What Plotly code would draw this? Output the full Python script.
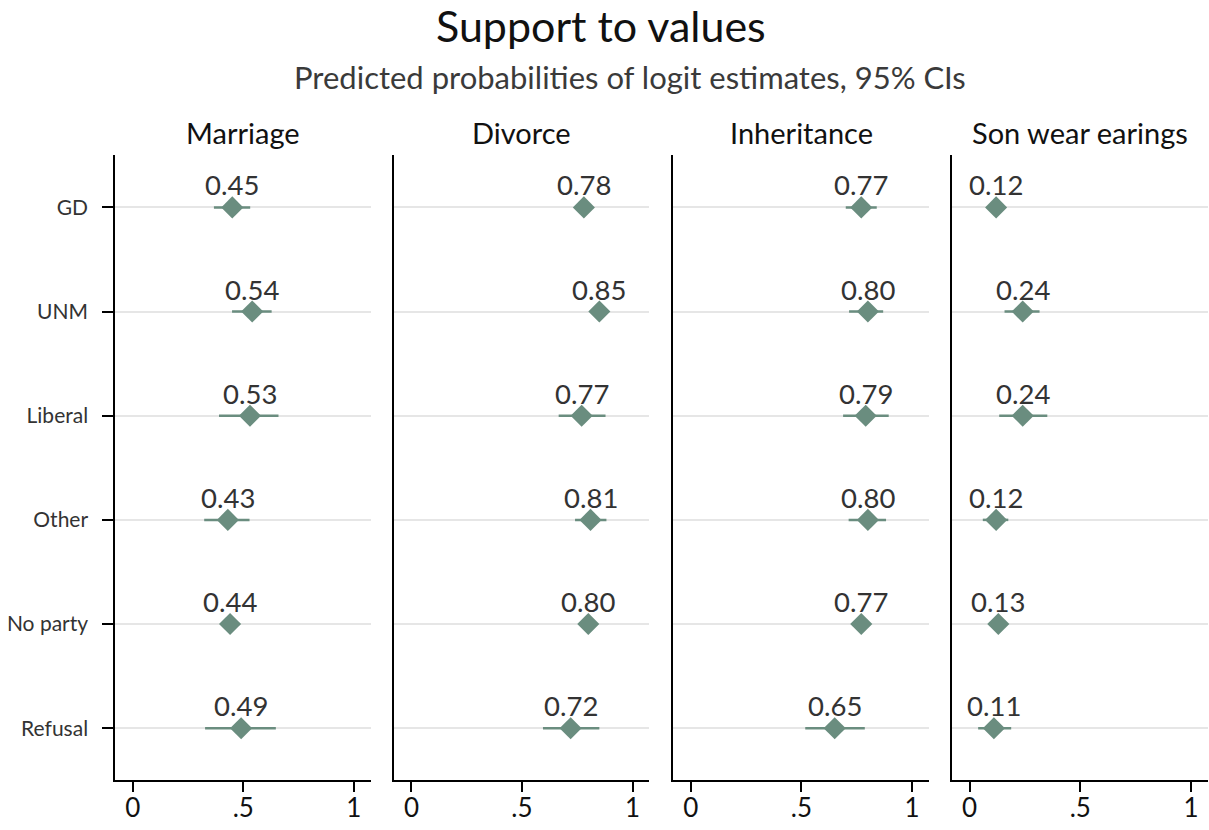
import plotly.graph_objects as go

# Party categories (top to bottom) and outcome panels
categories = ["GD", "UNM", "Liberal", "Other", "No party", "Refusal"]
panel_titles = ["Marriage", "Divorce", "Inheritance", "Son wear earings"]

# Predicted probabilities with 95% confidence bounds
marriage = [0.45, 0.54, 0.53, 0.43, 0.44, 0.49]
marriage_lo = [0.367, 0.449, 0.390, 0.323, 0.410, 0.327]
marriage_hi = [0.531, 0.628, 0.659, 0.528, 0.470, 0.647]

divorce = [0.78, 0.85, 0.77, 0.81, 0.80, 0.72]
divorce_lo = [0.755, 0.825, 0.666, 0.740, 0.775, 0.595]
divorce_hi = [0.805, 0.875, 0.878, 0.882, 0.825, 0.850]

inheritance = [0.77, 0.80, 0.79, 0.80, 0.77, 0.65]
inheritance_lo = [0.700, 0.715, 0.688, 0.713, 0.745, 0.517]
inheritance_hi = [0.840, 0.869, 0.894, 0.882, 0.795, 0.786]

earings = [0.12, 0.24, 0.24, 0.12, 0.13, 0.11]
earings_lo = [0.095, 0.158, 0.134, 0.060, 0.105, 0.039]
earings_hi = [0.145, 0.316, 0.351, 0.175, 0.155, 0.188]

x_ticks = [0, 0.5, 1]
x_ticktext = ["0", ".5", "1"]

series = [
    (marriage, marriage_lo, marriage_hi),
    (divorce, divorce_lo, divorce_hi),
    (inheritance, inheritance_lo, inheritance_hi),
    (earings, earings_lo, earings_hi),
]

W, H = 1209, 830
FONT = "Lato"
MARK = "#6a8d7f"
TEXT = "#333333"

# Panel placement in pixels (left, right) and shared vertical extent
panel_px = [(115.3, 370.7), (394.0, 649.3), (673.3, 929.0), (952.0, 1208.0)]
top_px, bottom_px = 155.3, 780.3
y_dom = [1 - bottom_px / H, 1 - top_px / H]
x_range = [-0.079, 1.076]

fig = go.Figure()
annotations = []

for i, ((vals, lo, hi), (l_px, r_px)) in enumerate(zip(series, panel_px)):
    n = "" if i == 0 else str(i + 1)
    xa, ya = "x" + n, "y" + n
    fig.add_trace(go.Scatter(
        x=vals, y=categories, xaxis=xa, yaxis=ya,
        mode="markers",
        marker=dict(symbol="diamond", size=17, color=MARK, line=dict(width=0)),
        error_x=dict(type="data", symmetric=False,
                     array=[h - v for h, v in zip(hi, vals)],
                     arrayminus=[v - l for v, l in zip(vals, lo)],
                     color=MARK, thickness=2.5, width=0),
        hoverinfo="x+y", showlegend=False,
    ))
    for v, c in zip(vals, categories):
        annotations.append(dict(
            x=v, y=c, xref=xa, yref=ya, text=f"{v:.2f}", showarrow=False,
            xanchor="center", yanchor="bottom", yshift=4,
            font=dict(family=FONT, size=27.5, color=TEXT),
        ))
    dom = [l_px / W, r_px / W]
    fig.layout["xaxis" + n] = dict(
        domain=dom, range=x_range, anchor=ya,
        tickvals=x_ticks, ticktext=x_ticktext,
        ticks="outside", ticklen=10, tickwidth=2, tickcolor="black",
        showline=True, linecolor="black", linewidth=2,
        showgrid=False, zeroline=False, ticklabelstandoff=-7,
        tickfont=dict(family=FONT, size=26, color="#111111"),
    )
    fig.layout["yaxis" + n] = dict(
        domain=y_dom, anchor=xa, type="category",
        categoryorder="array", categoryarray=categories,
        range=[5.5, -0.5],
        showgrid=True, gridcolor="#e6e6e6", gridwidth=2,
        showline=True, linecolor="black", linewidth=2, zeroline=False,
        ticks="outside" if i == 0 else "", ticklen=11, tickwidth=2, tickcolor="black",
        showticklabels=(i == 0), ticklabelstandoff=10,
        tickfont=dict(family=FONT, size=21, color=TEXT),
    )
    annotations.append(dict(
        x=(l_px + r_px) / 2 / W, y=1 - 133 / H, xref="paper", yref="paper",
        text=panel_titles[i], showarrow=False, xanchor="center", yanchor="middle",
        font=dict(family=FONT, size=29, color="#111111"),
    ))

annotations.append(dict(
    x=601 / W, y=1 - 25 / H, xref="paper", yref="paper",
    text="Support to values", showarrow=False, xanchor="center", yanchor="middle",
    font=dict(family=FONT, size=43, color="#111111"),
))
annotations.append(dict(
    x=629.5 / W, y=1 - 77 / H, xref="paper", yref="paper",
    text="Predicted probabilities of logit estimates, 95% CIs", showarrow=False,
    xanchor="center", yanchor="middle",
    font=dict(family=FONT, size=31, color="#3a3a3a"),
))

fig.update_layout(
    width=W, height=H,
    margin=dict(l=0, r=0, t=0, b=0),
    paper_bgcolor="white", plot_bgcolor="white",
    annotations=annotations,
    showlegend=False,
)

fig.write_html("out.html")
